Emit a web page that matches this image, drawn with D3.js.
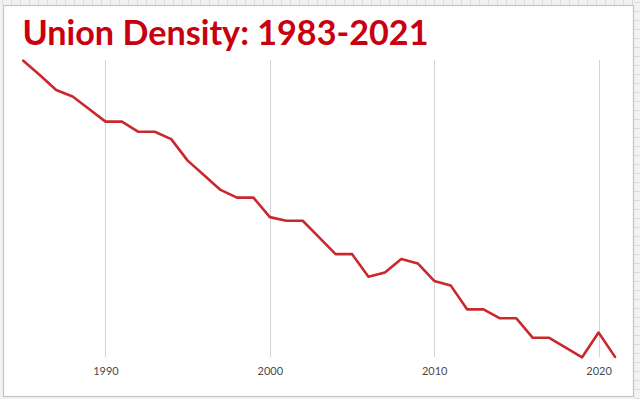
<!DOCTYPE html>
<html><head><meta charset="utf-8">
<script src="https://cdn.jsdelivr.net/npm/d3@7"></script>
<style>html,body{margin:0;padding:0;background:#fff;}svg{display:block;}</style>
</head><body>
<svg id="c" width="640" height="399"></svg>
<script>
const title = "Union Density: 1983-2021";
const years = d3.range(1985, 2022);
const density = [17.60,17.25,16.88,16.72,16.41,16.10,16.10,15.85,15.85,15.67,
  15.14,14.78,14.42,14.23,14.23,13.75,13.66,13.66,13.25,12.84,
  12.84,12.28,12.39,12.72,12.61,12.18,12.07,11.48,11.48,11.26,
  11.26,10.78,10.78,10.54,10.30,10.91,10.31];
const tickYears = [1990, 2000, 2010, 2020];

const svg = d3.select("#c");
// outer spreadsheet-like background
svg.append("rect").attr("width",640).attr("height",399).attr("fill","#f2f2f2");
const g0 = svg.append("g").attr("stroke","#dcdcdc").attr("stroke-width",1);
for (let x=2; x<640; x+=9) g0.append("line").attr("x1",x+0.5).attr("x2",x+0.5).attr("y1",0).attr("y2",5);
for (let y=2; y<399; y+=9) g0.append("line").attr("x1",634).attr("x2",640).attr("y1",y+0.5).attr("y2",y+0.5);
svg.append("rect").attr("x",3.5).attr("y",5.5).attr("width",630).attr("height",391)
  .attr("fill","#ffffff").attr("stroke","#c4c4c4").attr("stroke-width",1.2);

const data = years.map((y,i)=>({year:y, v:density[i]}));
const x = d3.scaleLinear().domain([1985, 2021]).range([23.3, 615]);
const y = d3.scaleLinear().domain([10.30, 17.60]).range([357.3, 60.7]);

// gridlines
svg.append("g").selectAll("line").data(tickYears).join("line")
  .attr("x1",d=>Math.round(x(d))+0.5).attr("x2",d=>Math.round(x(d))+0.5)
  .attr("y1",60).attr("y2",357).attr("stroke","#d4d4d4").attr("stroke-width",1);

// axis labels
const ax = svg.append("g").attr("transform","translate(0,375)")
  .call(d3.axisBottom(x).tickValues(tickYears).tickFormat(d3.format("d")).tickSize(0).tickPadding(0));
ax.select(".domain").remove();
ax.selectAll("text").attr("font-family","Lato, 'Open Sans', sans-serif").attr("font-size",11)
  .attr("fill","#4a4a4a").attr("dy","0");

// line
svg.append("path").datum(data)
  .attr("d", d3.line().x(d=>x(d.year)).y(d=>y(d.v)))
  .attr("fill","none").attr("stroke","#c9282d").attr("stroke-width",2.6)
  .attr("stroke-linejoin","round").attr("stroke-linecap","round");

// title
svg.append("text").attr("x",22.5).attr("y",44.5).text(title)
  .attr("font-family","Lato, 'Open Sans', sans-serif").attr("font-weight","bold")
  .attr("font-size",33.5).attr("fill","#c8000f")
  .attr("textLength",406).attr("lengthAdjust","spacingAndGlyphs");
</script>
</body></html>
